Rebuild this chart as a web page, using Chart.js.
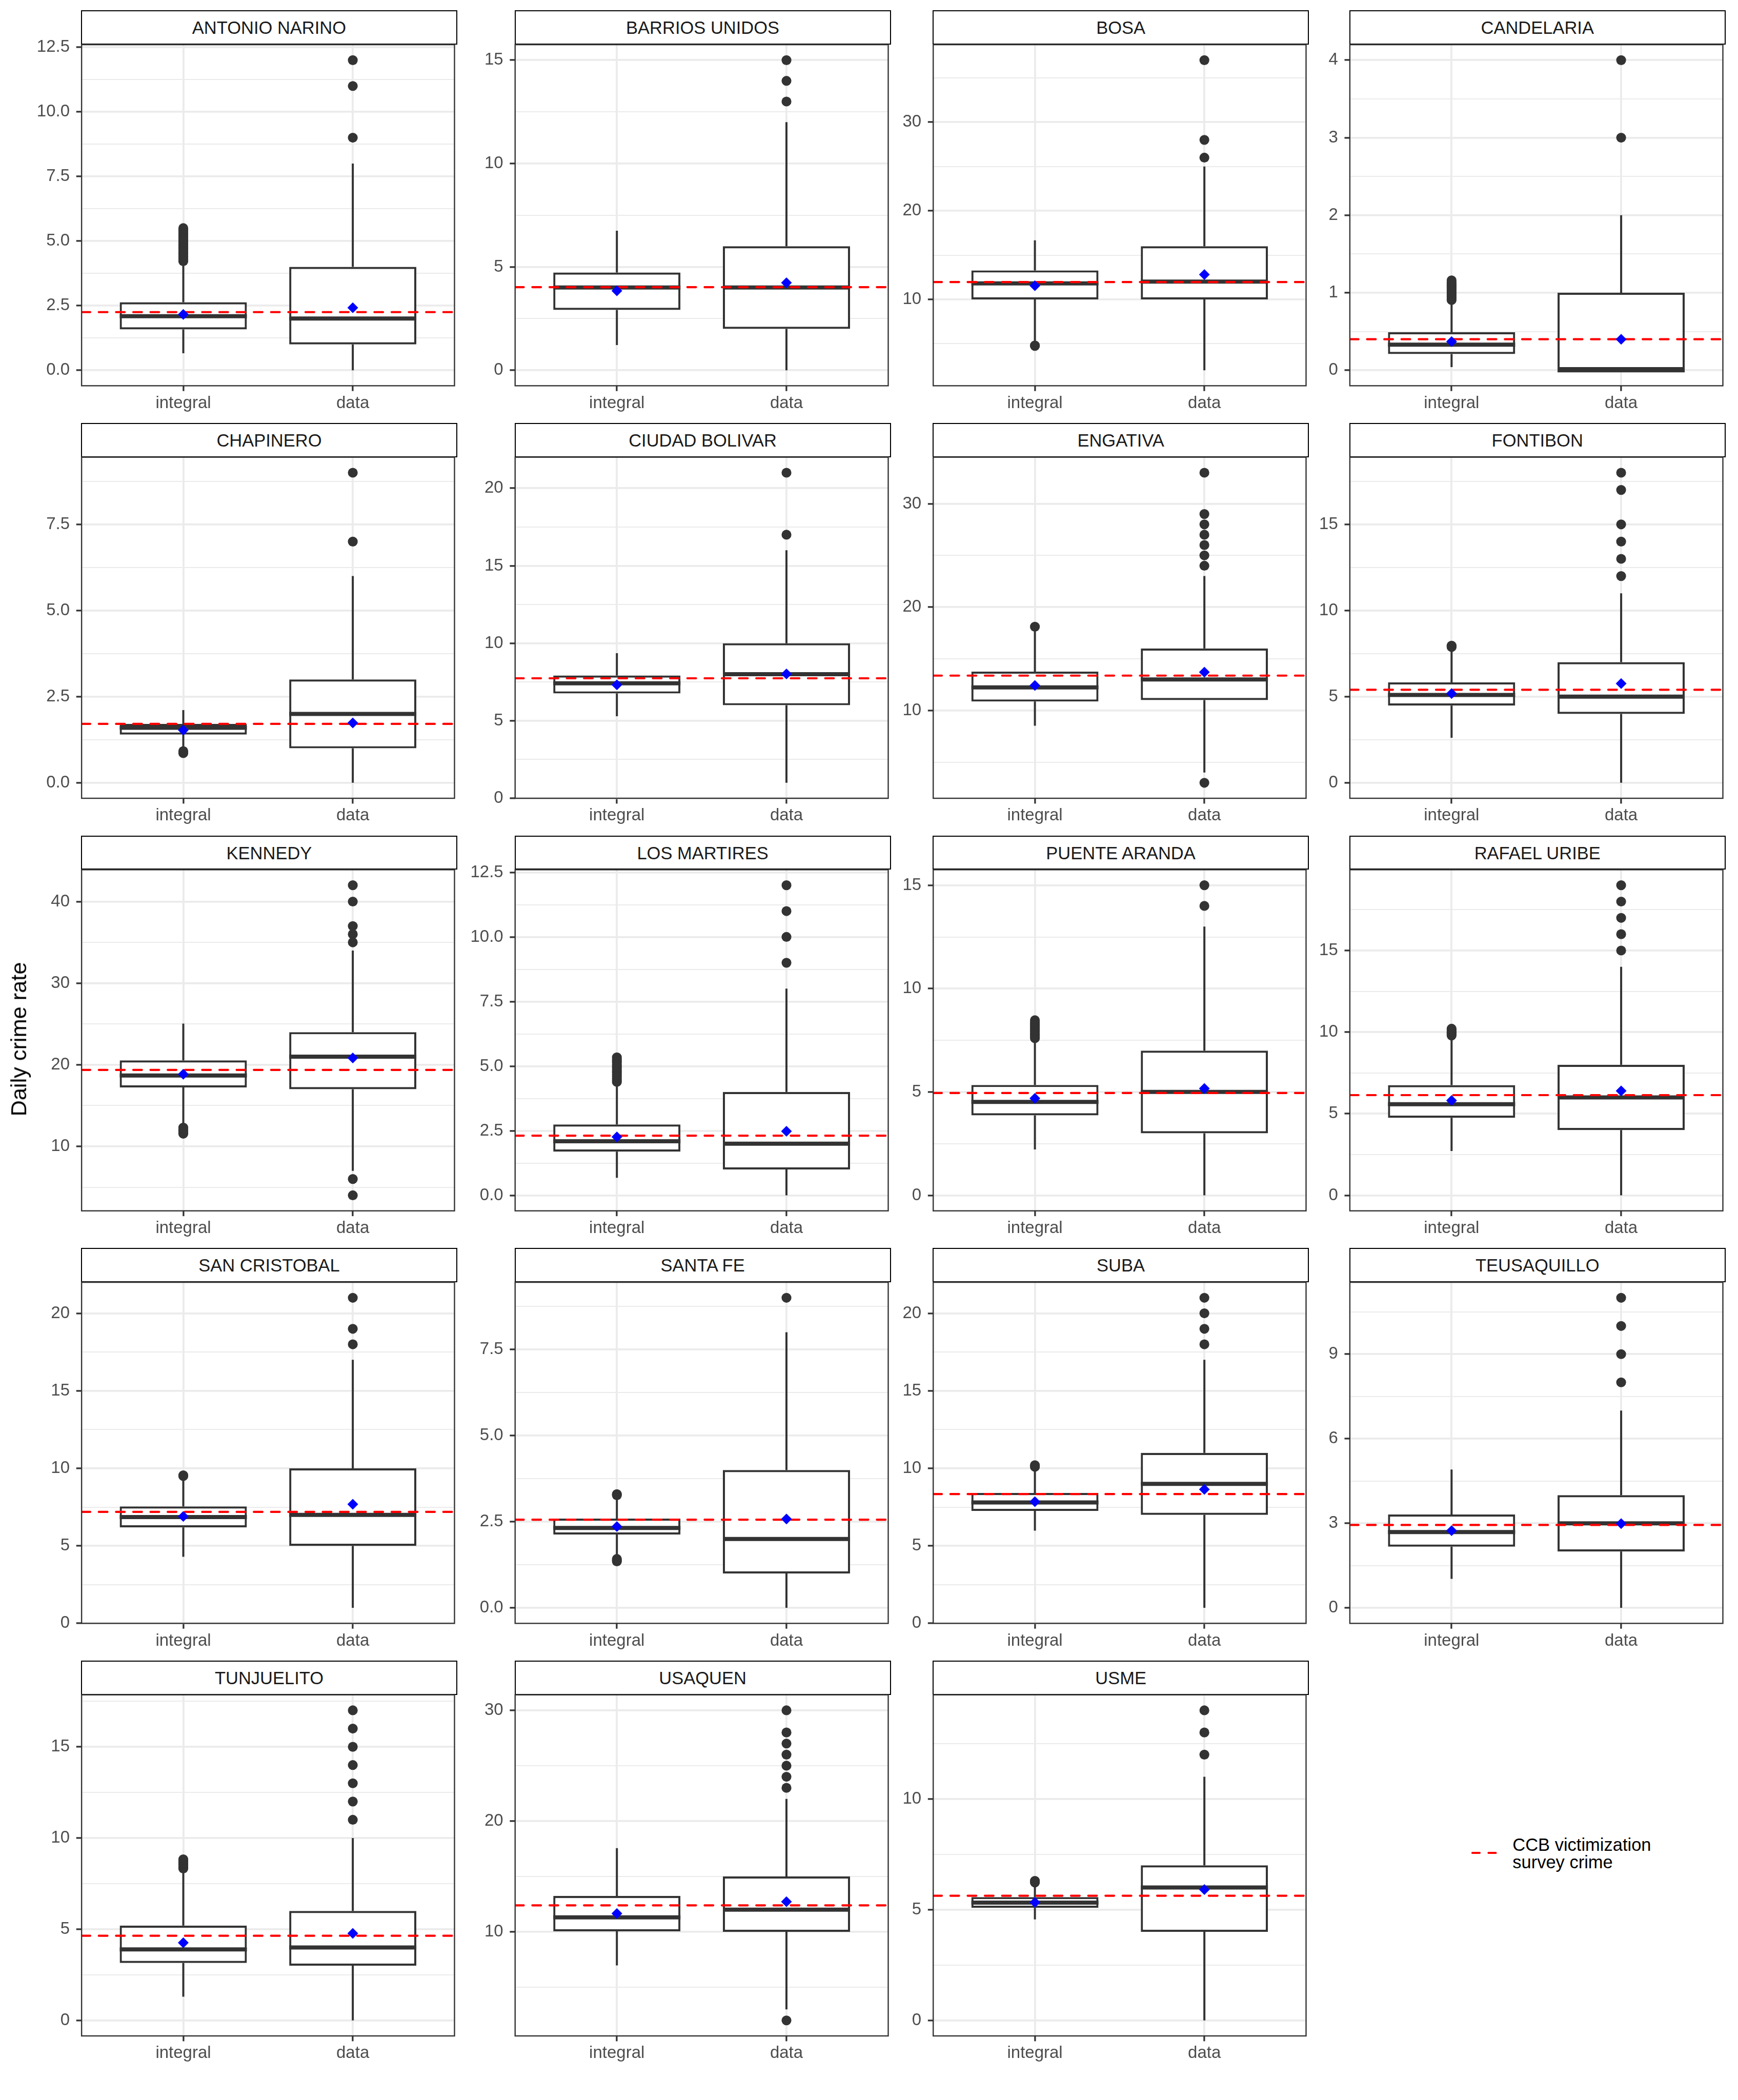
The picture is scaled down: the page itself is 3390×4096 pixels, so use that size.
<!DOCTYPE html>
<html>
<head>
<meta charset="utf-8">
<script src="https://cdn.jsdelivr.net/npm/chart.js@4.4.1/dist/chart.umd.min.js"></script>
<style>
html,body{margin:0;padding:0;background:#ffffff;}
body{width:3390px;height:4096px;position:relative;overflow:hidden;font-family:"Liberation Sans",Arial,sans-serif;}
.strip{position:absolute;box-sizing:border-box;border:2.4px solid #000000;background:#ffffff;color:#1A1A1A;font-size:34.5px;display:flex;align-items:center;justify-content:center;padding-top:2px;white-space:nowrap;}
canvas{position:absolute;}
.ytitle{position:absolute;transform:translate(-50%,-50%) rotate(-90deg);white-space:nowrap;font-size:43.3px;line-height:1.15;color:#000000;}
.legtext{position:absolute;font-size:34.5px;color:#000000;white-space:nowrap;}
svg{position:absolute;overflow:visible;}
</style>
</head>
<body>
<script>
// ---------------- DATA ----------------
const districts = ["ANTONIO NARINO","BARRIOS UNIDOS","BOSA","CANDELARIA","CHAPINERO","CIUDAD BOLIVAR","ENGATIVA","FONTIBON","KENNEDY","LOS MARTIRES","PUENTE ARANDA","RAFAEL URIBE","SAN CRISTOBAL","SANTA FE","SUBA","TEUSAQUILLO","TUNJUELITO","USAQUEN","USME"];
const groups = ["integral","data"];

// "integral" boxplot statistics
const intLo   = [0.66,1.22,5.3,0.04,0.96,5.29,8.52,2.61,12.35,0.68,2.22,2.72,4.29,1.47,5.98,1.03,1.3,6.97,4.56];
const intQ1   = [1.58,2.92,10.0,0.21,1.40,6.76,10.86,4.48,17.23,1.69,3.87,4.75,6.19,2.13,7.25,2.17,3.15,10.05,5.08];
const intMed  = [2.09,4.0,11.8,0.33,1.595,7.42,12.23,5.1,18.68,2.09,4.52,5.58,6.86,2.32,7.8,2.69,3.89,11.31,5.32];
const intQ3   = [2.63,4.73,13.27,0.49,1.71,7.92,13.76,5.83,20.53,2.74,5.34,6.75,7.54,2.59,8.41,3.31,5.2,13.24,5.57];
const intHi   = [4.18,6.75,16.66,0.88,2.11,9.36,17.8,7.8,25.05,4.35,7.52,9.72,9.4,3.22,10.0,4.91,8.28,17.56,6.15];
const intMean = [2.16,3.84,11.54,0.37,1.53,7.32,12.41,5.18,18.84,2.26,4.69,5.81,6.9,2.36,7.85,2.74,4.26,11.65,5.33];
const intOutliers = [
  [4.22,4.29,4.35,4.41,4.48,4.55,4.61,4.68,4.74,4.81,4.87,4.93,5.0,5.06,5.13,5.19,5.26,5.32,5.39,5.44,5.5],
  [],
  [4.75,4.8],
  [0.905,0.93,0.95,0.97,0.99,1.01,1.03,1.05,1.07,1.09,1.11,1.13,1.16],
  [0.86,0.89,0.92],
  [],
  [18.1],
  [7.88,7.92,7.96],
  [11.55,11.7,11.85,12.0,12.15,12.3],
  [4.39,4.46,4.53,4.6,4.67,4.74,4.8,4.87,4.94,5.0,5.07,5.14,5.2,5.27,5.34],
  [7.6,7.68,7.77,7.85,7.94,8.02,8.1,8.19,8.28,8.37,8.47],
  [9.79,9.86,9.93,10.0,10.07,10.14,10.21],
  [9.5,9.55],
  [1.35,1.38,1.42,3.27,3.3],
  [10.1,10.15,10.2],
  [],
  [8.33,8.4,8.48,8.55,8.62,8.69,8.76,8.83],
  [],
  [6.23,6.27,6.3]
];

// "data" boxplot statistics
const dataLo   = [0,0,2,0,0,1,4,0,7,0,0,0,1,0,1,0,0,3,0];
const dataQ1   = [1,2,10,0,1,6,11,4,17,1,3,4,5,1,7,2,3,10,4];
const dataMed  = [2,4,12,0,2,8,13,5,21,2,5,6,7,2,9,3,4,12,6];
const dataQ3   = [4,6,16,1,3,10,16,7,24,4,7,8,10,4,11,4,6,15,7];
const dataHi   = [8,12,25,2,6,16,23,11,34,8,13,14,17,8,17,7,10,22,11];
const dataMean = [2.42,4.23,12.8,0.40,1.74,8.02,13.71,5.76,20.83,2.48,5.17,6.40,7.68,2.58,8.64,2.99,4.77,12.72,5.91];
const dataOutliers = [
  [9,11,12],[13,14,15],[26,28,37],[3,4],[7,9],[17,21],[3,24,25,26,27,28,29,33],[12,13,14,15,17,18],
  [4,6,35,36,37,40,42],[9,10,11,12],[14,15],[15,16,17,18,19],[18,19,21],[9],[18,19,20,21],[8,9,10,11],
  [11,12,13,14,15,16,17],[2,23,24,25,26,27,28,30],[12,13,14]
];

// CCB victimization survey crime (red dashed reference)
const surveyCrime = [2.25,4.02,11.95,0.40,1.71,7.74,13.37,5.40,19.37,2.31,4.95,6.14,7.19,2.56,8.34,2.94,4.64,12.39,5.63];

// y tick labels per panel
const yTickLabels = [
  ["0.0","2.5","5.0","7.5","10.0","12.5"],
  ["0","5","10","15"],
  ["10","20","30"],
  ["0","1","2","3","4"],
  ["0.0","2.5","5.0","7.5"],
  ["0","5","10","15","20"],
  ["10","20","30"],
  ["0","5","10","15"],
  ["10","20","30","40"],
  ["0.0","2.5","5.0","7.5","10.0","12.5"],
  ["0","5","10","15"],
  ["0","5","10","15"],
  ["0","5","10","15","20"],
  ["0.0","2.5","5.0","7.5"],
  ["0","5","10","15","20"],
  ["0","3","6","9"],
  ["0","5","10","15"],
  ["10","20","30"],
  ["0","5","10"]
];
const yAxisTitle = "Daily crime rate";
const legendLines = ["CCB victimization","survey crime"];

// ---------------- LAYOUT (reference px, scaled by S) ----------------
const S = 3390/3600;
const COL_LEFT = [169, 1067, 1933, 2796];
const PANEL_W = 777;
const ROW_STRIP_TOP = [23, 877.5, 1732, 2586.5, 3441];
const STRIP_H = 69.5;
const PANEL_H = 706.5;
const AXIS_W = 110, AXIS_H = 72, PAD_T = 42, PAD_R = 6;
const HALF_BOX = 0.375;

Chart.defaults.font.family = "'Liberation Sans', Arial, sans-serif";

const panelBorder = {
  id: 'panelBorder',
  afterDatasetsDraw(chart) {
    const {ctx, chartArea: a} = chart;
    ctx.save();
    ctx.strokeStyle = '#333333';
    ctx.lineWidth = 2.4;
    ctx.strokeRect(a.left, a.top, a.right - a.left, a.bottom - a.top);
    ctx.restore();
  }
};

function makePanel(i) {
  const col = i % 4, row = Math.floor(i / 4);
  const x0 = COL_LEFT[col] * S;
  const stripTop = ROW_STRIP_TOP[row] * S;
  const y0 = (ROW_STRIP_TOP[row] + STRIP_H) * S;
  const x1 = x0 + PANEL_W * S, y1 = y0 + PANEL_H * S;
  const cl = Math.floor(x0 - AXIS_W * S), ct = Math.floor(y0 - PAD_T * S);
  const cr = Math.ceil(x1 + PAD_R * S), cb = Math.ceil(y1 + AXIS_H * S);
  const yW = x0 - cl, padTop = y0 - ct, padRight = cr - x1, xH = cb - y1;

  const strip = document.createElement('div');
  strip.className = 'strip';
  strip.style.left = (x0 - 1.2) + 'px';
  strip.style.top = (stripTop - 1.2) + 'px';
  strip.style.width = (PANEL_W * S + 2.4) + 'px';
  strip.style.height = (y0 - stripTop + 1.2) + 'px';
  strip.textContent = districts[i];
  document.body.appendChild(strip);

  const cv = document.createElement('canvas');
  cv.width = cr - cl; cv.height = cb - ct;
  cv.style.left = cl + 'px'; cv.style.top = ct + 'px';
  cv.style.width = (cr - cl) + 'px'; cv.style.height = (cb - ct) + 'px';
  document.body.appendChild(cv);

  const allVals = [intLo[i], intHi[i], dataLo[i], dataHi[i], intMean[i], dataMean[i], surveyCrime[i], ...intOutliers[i], ...dataOutliers[i]];
  const vmin = Math.min(...allVals), vmax = Math.max(...allVals);
  const ext = 0.05 * (vmax - vmin);
  const ymin = vmin - ext, ymax = vmax + ext;

  const majors = yTickLabels[i].map(s => ({value: parseFloat(s), lab: s}));
  const step = majors[1].value - majors[0].value;
  const minors = [];
  for (let k = -1; k < majors.length; k++) {
    const v = majors[0].value + (k + 0.5) * step;
    if (v > ymin && v < ymax) minors.push({value: v, lab: '', minor: true});
  }
  const yTicks = [...majors, ...minors].sort((a, b) => a.value - b.value);

  const outData = [...intOutliers[i].map(v => ({x: 1, y: v})), ...dataOutliers[i].map(v => ({x: 2, y: v}))];
  const medData = [{x: 1 - HALF_BOX, y: intMed[i]}, {x: 1 + HALF_BOX, y: intMed[i]}, {x: 1.5, y: null},
                   {x: 2 - HALF_BOX, y: dataMed[i]}, {x: 2 + HALF_BOX, y: dataMed[i]}];
  const whiskData = [{x: 1, y: intLo[i]}, {x: 1, y: intQ1[i]}, {x: 1, y: null}, {x: 1, y: intQ3[i]}, {x: 1, y: intHi[i]},
                     {x: 1.5, y: null},
                     {x: 2, y: dataLo[i]}, {x: 2, y: dataQ1[i]}, {x: 2, y: null}, {x: 2, y: dataQ3[i]}, {x: 2, y: dataHi[i]}];
  const boxData = [{x: 1, y: [intQ1[i], intQ3[i]]}, {x: 2, y: [dataQ1[i], dataQ3[i]]}];

  new Chart(cv, {
    type: 'scatter',
    data: {
      datasets: [
        {type: 'scatter', data: [{x: 1, y: intMean[i]}, {x: 2, y: dataMean[i]}], pointStyle: 'rectRot',
         pointRadius: 10.5, pointBackgroundColor: '#0000FF', pointBorderWidth: 0, showLine: false},
        {type: 'line', data: [{x: 0.4, y: surveyCrime[i]}, {x: 2.6, y: surveyCrime[i]}], borderColor: '#FF0000',
         borderWidth: 4.2, borderDash: [16.8, 16.8], borderCapStyle: 'round', pointRadius: 0, fill: false, clip: 0, tension: 0},
        {type: 'scatter', data: outData, pointStyle: 'circle', pointRadius: 9.6, pointBackgroundColor: '#333333',
         pointBorderWidth: 0, showLine: false},
        {type: 'line', data: medData, borderColor: '#333333', borderWidth: 8, borderCapStyle: 'butt',
         pointRadius: 0, spanGaps: false, fill: false, tension: 0},
        {type: 'line', data: whiskData, borderColor: '#333333', borderWidth: 4, borderCapStyle: 'butt',
         pointRadius: 0, spanGaps: false, fill: false, tension: 0},
        {type: 'bar', data: boxData, backgroundColor: '#FFFFFF', borderColor: '#333333', borderWidth: 4.2,
         borderSkipped: false, categoryPercentage: 0.75, barPercentage: 1.0, inflateAmount: 0}
      ]
    },
    options: {
      responsive: false,
      animation: false,
      devicePixelRatio: 1,
      events: [],
      layout: {padding: {top: padTop, right: padRight, left: 0, bottom: 0}},
      plugins: {legend: {display: false}, tooltip: {enabled: false}, title: {display: false}},
      scales: {
        x: {
          type: 'linear', min: 0.4, max: 2.6, bounds: 'data', offset: false,
          afterBuildTicks: s => { s.ticks = [{value: 1}, {value: 2}]; },
          afterFit: s => { s.height = xH; },
          ticks: {autoSkip: false, maxRotation: 0, minRotation: 0, padding: 4, color: '#4D4D4D',
                  font: {size: 33}, callback: v => groups[Math.round(v) - 1]},
          grid: {color: '#EBEBEB', lineWidth: 3.8, offset: false, drawTicks: true, tickLength: 10.4,
                 tickColor: '#333333', tickWidth: 3.3},
          border: {display: false}
        },
        y: {
          type: 'linear', min: ymin, max: ymax, bounds: 'data',
          afterBuildTicks: s => { s.ticks = yTicks.map(t => Object.assign({}, t)); },
          afterFit: s => { s.width = yW; },
          ticks: {autoSkip: false, padding: 12.7, color: '#4D4D4D', font: {size: 33},
                  callback: (v, idx, ticks) => ticks[idx].lab},
          grid: {color: '#EBEBEB',
                 lineWidth: c => (c.tick && c.tick.minor) ? 1.9 : 3.8,
                 drawTicks: true, tickLength: 10.4,
                 tickColor: c => (c.tick && c.tick.minor) ? 'rgba(0,0,0,0)' : '#333333',
                 tickWidth: 3.3},
          border: {display: false}
        }
      }
    },
    plugins: [panelBorder]
  });
}

for (let i = 0; i < districts.length; i++) makePanel(i);

// y-axis title
const yt = document.createElement('div');
yt.className = 'ytitle';
yt.style.left = (39 * S) + 'px';
yt.style.top = (2153 * S) + 'px';
yt.textContent = yAxisTitle;
document.body.appendChild(yt);

// legend
const svgNS = 'http://www.w3.org/2000/svg';
const svg = document.createElementNS(svgNS, 'svg');
svg.setAttribute('width', '80'); svg.setAttribute('height', '20');
svg.style.left = (3040 * S) + 'px';
svg.style.top = (3838 * S - 10) + 'px';
const ln = document.createElementNS(svgNS, 'line');
ln.setAttribute('x1', ((3049.5 - 3040) * S).toFixed(2));
ln.setAttribute('x2', ((3099 - 3040) * S).toFixed(2));
ln.setAttribute('y1', '10'); ln.setAttribute('y2', '10');
ln.setAttribute('stroke', '#FF0000'); ln.setAttribute('stroke-width', '4.2');
ln.setAttribute('stroke-dasharray', '14 17.5'); ln.setAttribute('stroke-linecap', 'round');
svg.appendChild(ln);
document.body.appendChild(svg);

const lt = document.createElement('div');
lt.className = 'legtext';
lt.style.left = (3133 * S) + 'px';
lt.style.top = ((3821.5 - 18) * S) + 'px';
lt.style.lineHeight = (36 * S) + 'px';
lt.innerHTML = legendLines.join('<br>');
document.body.appendChild(lt);
</script>
</body>
</html>
